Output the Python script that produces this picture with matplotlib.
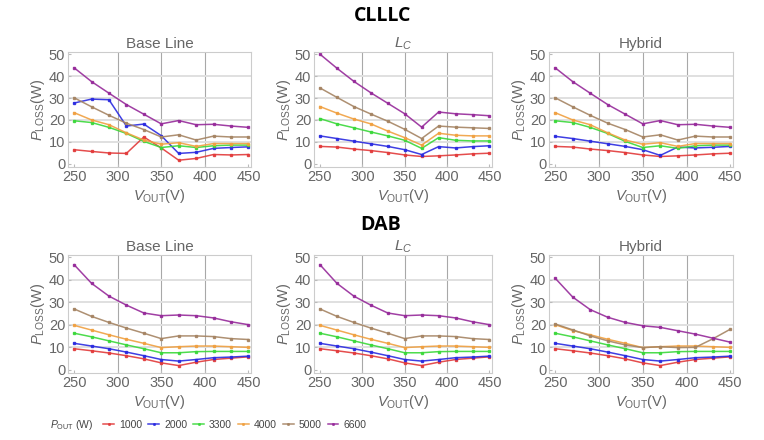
import numpy as np
import matplotlib
matplotlib.use("Agg")
import matplotlib.pyplot as plt

plt.rcParams['font.family'] = ['Liberation Sans', 'DejaVu Sans']
plt.rcParams['mathtext.fontset'] = 'custom'
plt.rcParams['mathtext.rm'] = 'Liberation Sans'
plt.rcParams['mathtext.it'] = 'Liberation Sans:italic'

# Output voltage (V)
vout = [250, 270, 290, 310, 330, 350, 370, 390, 410, 430, 450]
pout_labels = ['1000', '2000', '3300', '4000', '5000', '6600']
colors = ['#e23a3a', '#2a2ae0', '#3ad83a', '#f0a040', '#a58463', '#962a9a']

# CLLLC - Base Line
clllc_base_1000 = [6.4, 5.6, 4.9, 4.7, 12.2, 7.2, 1.6, 2.4, 4.2, 4.0, 4.2]
clllc_base_2000 = [27.7, 29.5, 29.2, 17.2, 18.1, 12.8, 4.7, 5.2, 7.0, 7.4, 7.7]
clllc_base_3300 = [19.6, 18.8, 16.6, 13.8, 10.2, 7.4, 8.2, 7.4, 8.2, 8.5, 8.5]
clllc_base_4000 = [23.3, 20.0, 17.8, 14.1, 10.8, 8.9, 9.6, 7.9, 9.2, 9.2, 9.2]
clllc_base_5000 = [30.1, 26.0, 22.1, 18.5, 15.6, 12.2, 13.2, 10.8, 12.6, 12.2, 12.2]
clllc_base_6600 = [43.8, 37.5, 32.2, 27.0, 22.6, 18.2, 19.7, 17.8, 18.0, 17.2, 16.6]

# CLLLC - L_C
clllc_lc_1000 = [7.9, 7.6, 6.7, 6.0, 5.1, 4.0, 3.3, 3.6, 4.0, 4.5, 4.8]
clllc_lc_2000 = [12.7, 11.5, 10.3, 9.1, 7.9, 6.4, 4.2, 7.8, 7.2, 7.8, 8.2]
clllc_lc_3300 = [20.6, 18.2, 16.4, 14.5, 12.7, 10.7, 7.0, 11.9, 10.7, 10.4, 10.4]
clllc_lc_4000 = [26.1, 23.1, 20.4, 18.2, 14.9, 11.9, 8.5, 13.9, 13.0, 12.7, 12.7]
clllc_lc_5000 = [34.6, 30.3, 26.1, 22.7, 19.4, 15.7, 11.5, 17.2, 16.7, 16.4, 16.1]
clllc_lc_6600 = [50.0, 43.6, 37.6, 32.4, 27.6, 22.8, 16.7, 23.6, 22.8, 22.4, 21.9]

# CLLLC - Hybrid
clllc_hyb_1000 = [7.9, 7.6, 6.7, 6.0, 5.1, 4.0, 3.3, 3.6, 4.0, 4.5, 4.8]
clllc_hyb_2000 = [12.5, 11.5, 10.3, 9.1, 7.9, 6.4, 3.8, 7.6, 7.2, 7.5, 7.9]
clllc_hyb_3300 = [19.6, 18.8, 16.6, 13.8, 10.2, 7.4, 8.2, 7.0, 8.2, 8.5, 8.5]
clllc_hyb_4000 = [23.3, 20.0, 17.8, 14.1, 10.8, 8.9, 9.6, 7.9, 9.2, 9.2, 9.2]
clllc_hyb_5000 = [30.1, 26.0, 22.1, 18.5, 15.6, 12.2, 13.2, 10.8, 12.6, 12.2, 12.2]
clllc_hyb_6600 = [43.8, 37.5, 32.2, 27.0, 22.6, 18.2, 19.7, 17.8, 18.0, 17.2, 16.6]

# DAB - Base Line
dab_base_1000 = [9.3, 8.4, 7.4, 6.2, 4.8, 3.0, 1.8, 3.3, 4.5, 5.1, 5.7]
dab_base_2000 = [11.7, 10.5, 9.3, 7.8, 6.2, 4.5, 3.8, 4.5, 5.3, 5.6, 6.0]
dab_base_3300 = [16.2, 14.6, 12.8, 11.0, 9.3, 7.5, 7.5, 8.0, 8.1, 8.1, 8.1]
dab_base_4000 = [19.7, 17.6, 15.5, 13.5, 11.7, 9.8, 10.2, 10.5, 10.5, 10.2, 9.9]
dab_base_5000 = [27.0, 23.7, 21.0, 18.5, 16.2, 13.8, 15.0, 15.0, 14.7, 13.8, 13.4]
dab_base_6600 = [46.7, 38.4, 32.7, 28.7, 25.2, 24.0, 24.3, 24.0, 23.0, 21.3, 20.0]

# DAB - L_C
dab_lc_1000 = [9.3, 8.4, 7.4, 6.2, 4.8, 3.0, 1.8, 3.3, 4.5, 5.1, 5.7]
dab_lc_2000 = [11.7, 10.5, 9.3, 7.8, 6.2, 4.5, 3.8, 4.5, 5.3, 5.6, 6.0]
dab_lc_3300 = [16.2, 14.6, 12.8, 11.0, 9.3, 7.5, 7.5, 8.0, 8.1, 8.1, 8.1]
dab_lc_4000 = [19.7, 17.6, 15.5, 13.5, 11.7, 9.8, 10.2, 10.5, 10.5, 10.2, 9.9]
dab_lc_5000 = [27.0, 23.7, 21.0, 18.5, 16.2, 13.8, 15.0, 15.0, 14.7, 13.8, 13.4]
dab_lc_6600 = [46.7, 38.4, 32.7, 28.7, 25.2, 24.0, 24.3, 24.0, 23.0, 21.3, 20.0]

# DAB - Hybrid
dab_hyb_1000 = [9.3, 8.4, 7.4, 6.2, 4.8, 3.0, 1.8, 3.3, 4.5, 5.1, 5.7]
dab_hyb_2000 = [11.7, 10.5, 9.3, 7.8, 6.2, 4.5, 3.8, 4.5, 5.3, 5.6, 6.0]
dab_hyb_3300 = [16.2, 14.6, 12.8, 11.0, 9.3, 7.5, 7.5, 8.0, 8.1, 8.1, 8.1]
dab_hyb_4000 = [20.0, 17.4, 15.5, 13.5, 11.7, 9.8, 10.2, 10.5, 10.5, 10.2, 9.9]
dab_hyb_5000 = [20.3, 17.7, 15.0, 12.8, 11.0, 9.8, 10.2, 9.8, 9.9, 13.7, 18.0]
dab_hyb_6600 = [40.7, 32.3, 26.7, 23.3, 21.0, 19.5, 18.8, 17.3, 15.8, 14.0, 12.2]

panels = [
    ("Base Line", [clllc_base_1000, clllc_base_2000, clllc_base_3300, clllc_base_4000, clllc_base_5000, clllc_base_6600]),
    ("$L_C$", [clllc_lc_1000, clllc_lc_2000, clllc_lc_3300, clllc_lc_4000, clllc_lc_5000, clllc_lc_6600]),
    ("Hybrid", [clllc_hyb_1000, clllc_hyb_2000, clllc_hyb_3300, clllc_hyb_4000, clllc_hyb_5000, clllc_hyb_6600]),
    ("Base Line", [dab_base_1000, dab_base_2000, dab_base_3300, dab_base_4000, dab_base_5000, dab_base_6600]),
    ("$L_C$", [dab_lc_1000, dab_lc_2000, dab_lc_3300, dab_lc_4000, dab_lc_5000, dab_lc_6600]),
    ("Hybrid", [dab_hyb_1000, dab_hyb_2000, dab_hyb_3300, dab_hyb_4000, dab_hyb_5000, dab_hyb_6600]),
]

fig = plt.figure(figsize=(7.64, 4.40), dpi=100)

W, H = 764.0, 440.0
lefts = [68, 314, 549]
widths = [183, 178, 184]
tops = [52, 255]
heights = [115, 118]

txt = '#666666'
handles = []
for k, (title, series) in enumerate(panels):
    r, c = divmod(k, 3)
    ax = fig.add_axes([lefts[c] / W, 1 - (tops[r] + heights[r]) / H, widths[c] / W, heights[r] / H])
    for i, ys in enumerate(series):
        ln, = ax.plot(vout, ys, color=colors[i], lw=1.1, marker='s', ms=1.7, alpha=0.9)
        if k == 0:
            handles.append(ln)
    ax.set_xlim(243, 453)
    ax.set_ylim(-1.5, 51)
    ax.set_xticks([250, 300, 350, 400, 450])
    ax.set_yticks([0, 10, 20, 30, 40, 50])
    for v in [300, 350, 400]:
        ax.axvline(v, color='#a8a8a8', lw=0.8, zorder=0)
    for v in [10, 20, 30, 40]:
        ax.axhline(v, color='#e0e0e0', lw=1.4, zorder=0)
    for s in ax.spines.values():
        s.set_color('#cccccc')
        s.set_linewidth(0.8)
    ax.tick_params(direction='in', length=2.5, color='#bbbbbb', labelcolor=txt,
                   labelsize=10.5, pad=2)
    ax.set_title(title, color=txt, fontsize=11, pad=3)
    ax.set_xlabel('$V_{\\mathrm{OUT}}$(V)', color=txt, fontsize=10.5, labelpad=2)
    ax.set_ylabel('$P_{\\mathrm{LOSS}}$(W)', color=txt, fontsize=10.5, labelpad=1)

fig.text(383 / W, 1 - 16 / H, 'CLLLC', ha='center', va='center', fontsize=14,
         fontweight='bold', family=['Open Sans', 'DejaVu Sans'])
fig.text(381 / W, 1 - 225 / H, 'DAB', ha='center', va='center', fontsize=14,
         fontweight='bold', family=['Open Sans', 'DejaVu Sans'])

fig.text(50 / W, 1 - 425 / H, '$P_{\\mathrm{OUT}}$ (W)', ha='left', va='center',
         fontsize=7.5, color='#444444')
fig.legend(handles, pout_labels, loc='center left', bbox_to_anchor=(94 / W, 1 - 425 / H),
           ncol=6, frameon=False, fontsize=7.5, handlelength=1.0, handletextpad=0.5,
           columnspacing=0.6, labelcolor='#444444', markerscale=0.6)

fig.savefig('out.png', dpi=100)
